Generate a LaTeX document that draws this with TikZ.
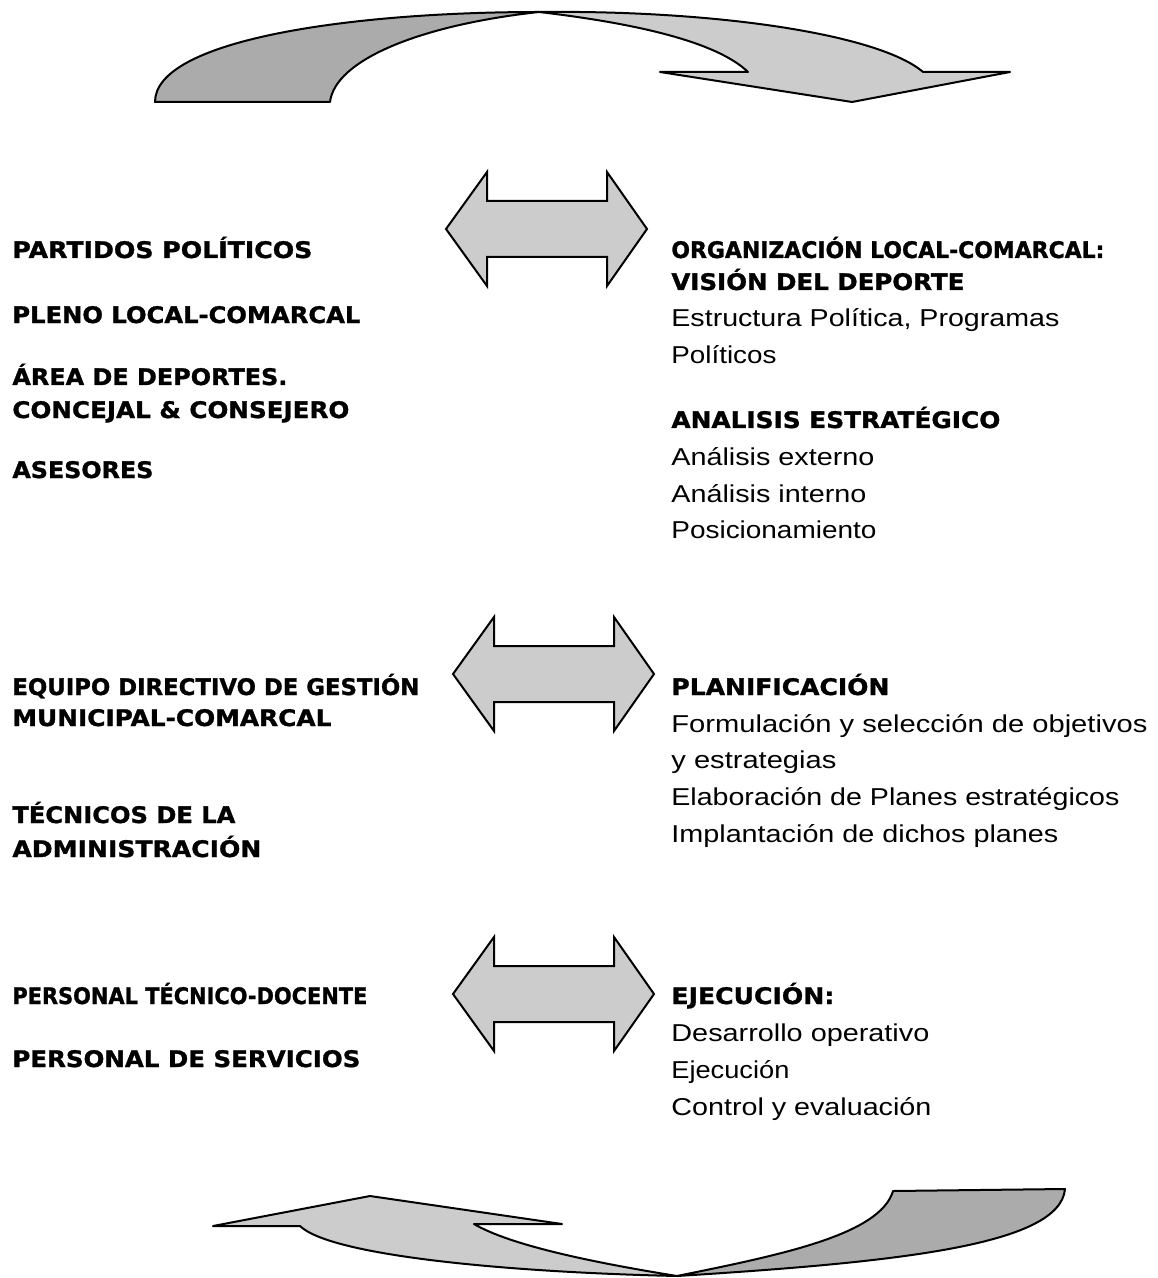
\documentclass[tikz,border=0pt]{standalone}
\usepackage{fontspec}
\setmainfont{Liberation Sans}
\newfontfamily\verd{DejaVu Sans}[BoldFeatures={FakeBold=1.2}]
\usepackage{graphicx}
\usetikzlibrary{positioning}
\definecolor{bandlight}{gray}{0.80}
\definecolor{banddark}{gray}{0.67}

\begin{document}
\begin{tikzpicture}[
x=0.5pt, y=-0.5pt,
head/.style={
  anchor=base west,
  inner sep=0pt,
  font=\fontsize{11.4}{13}\verd\bfseries
  },
item/.style={
  anchor=base west,
  inner sep=0pt,
  font=\fontsize{12.2}{14}\selectfont
  },
band/.style={
  draw,
  line width=1pt,
  line join=round
  },
dblarrow/.style={
  draw,
  fill=bandlight,
  line width=1pt,
  line join=miter
  }
]
\useasboundingbox (0,0) rectangle (1157,1278);

% curved arrow on top
\draw[band, fill=banddark] (155,102) .. controls (155,40) and (350,12) .. (539,12)
  .. controls (420,25) and (335,60) .. (330,102) -- cycle;
\draw[band, fill=bandlight] (539,12) .. controls (720,10) and (880,35) .. (923,72)
  -- (1010,72) -- (852,102) -- (660,72) -- (748,72)
  .. controls (720,45) and (650,25) .. (539,12) -- cycle;

% curved arrow at the bottom
\draw[band, fill=banddark] (677,1276) .. controls (900,1262) and (1060,1245) .. (1065,1189)
  -- (893,1191) .. controls (880,1235) and (780,1255) .. (677,1276) -- cycle;
\draw[band, fill=bandlight] (677,1276) .. controls (500,1272) and (330,1255) .. (300,1226)
  -- (213,1226) -- (370,1196) -- (562,1224) -- (474,1224)
  .. controls (510,1245) and (590,1262) .. (677,1276) -- cycle;

% double arrows
\foreach \x/\y [count=\i] in {446/229, 453/674, 453/994}
  \draw[dblarrow] (\x,\y) coordinate (da\i) -- ++(41,-57) -- ++(0,29) -- ++(120,0)
    -- ++(0,-29) -- ++(40,57) -- ++(-40,57) -- ++(0,-29) -- ++(-120,0) -- ++(0,29) -- cycle;

% left column
\foreach \y/\w/\txt [count=\i] in {
  258/300/{PARTIDOS POLÍTICOS},
  323/348/{PLENO LOCAL-COMARCAL},
  385/275/{ÁREA DE DEPORTES.},
  418/337/{CONCEJAL \& CONSEJERO},
  478/141/{ASESORES},
  695/407/{EQUIPO DIRECTIVO DE GESTIÓN},
  726/319/{MUNICIPAL-COMARCAL},
  823/223/{TÉCNICOS DE LA},
  857/249/{ADMINISTRACIÓN},
  1004/355/{PERSONAL TÉCNICO-DOCENTE},
  1067/348/{PERSONAL DE SERVICIOS}}
  \node[head] (lb\i) at (12,\y) {\resizebox{\dimexpr\w pt/2\relax}{\height}{\txt}};

% right column, titles
\foreach \y/\w/\txt [count=\i] in {
  258/433/{ORGANIZACIÓN LOCAL-COMARCAL:},
  290/293/{VISIÓN DEL DEPORTE},
  428/329/{ANALISIS ESTRATÉGICO},
  695/218/{PLANIFICACIÓN},
  1004/163/{EJECUCIÓN:}}
  \node[head] (rb\i) at (671,\y) {\resizebox{\dimexpr\w pt/2\relax}{\height}{\txt}};

% right column, items
\foreach \y/\w/\txt [count=\i] in {
  327/388/{Estructura Política, Programas},
  363/105/{Políticos},
  465/203/{Análisis externo},
  502/195/{Análisis interno},
  538/205/{Posicionamiento},
  732/476/{Formulación y selección de objetivos},
  768/165/{y estrategias},
  805/448/{Elaboración de Planes estratégicos},
  842/387/{Implantación de dichos planes},
  1041/258/{Desarrollo operativo},
  1078/118/{Ejecución},
  1115/260/{Control y evaluación}}
  \node[item] (rr\i) at (671,\y) {\resizebox{\dimexpr\w pt/2\relax}{\height}{\txt}};
\end{tikzpicture}
\end{document}
